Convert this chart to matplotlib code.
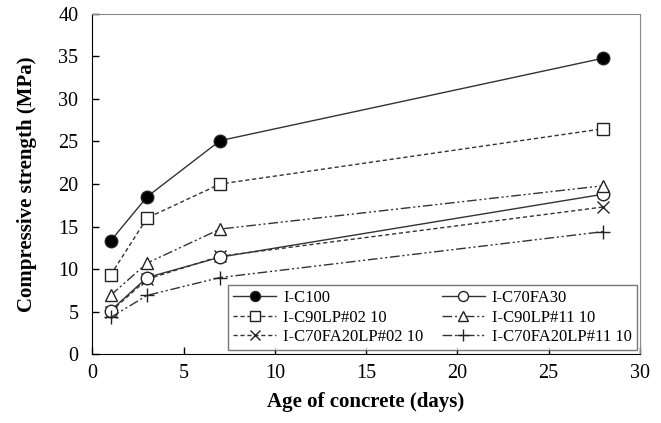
import matplotlib
matplotlib.use("Agg")
from matplotlib import pyplot as plt

plt.rcParams['font.family'] = ['Liberation Serif', 'DejaVu Serif']

# Age of concrete (days)
days = [1, 3, 7, 28]

# Compressive strength (MPa) per mix
c100 = [13.3, 18.5, 25.1, 34.8]
c70fa30 = [5.1, 9.0, 11.4, 18.8]
c90lp02 = [9.3, 16.0, 20.0, 26.5]
c90lp11 = [6.9, 10.7, 14.7, 19.8]
c70fa20lp02 = [5.0, 8.8, 11.5, 17.3]
c70fa20lp11 = [4.3, 6.9, 9.0, 14.4]

names = ["I-C100", "I-C70FA30", "I-C90LP#02 10", "I-C90LP#11 10",
         "I-C70FA20LP#02 10", "I-C70FA20LP#11 10"]

def main():
    fig = plt.figure(figsize=(6.61, 4.23), dpi=100)
    ax = fig.add_axes([0.1397, 0.163, 0.8283, 0.804])

    line = dict(color="#333333", lw=1.0, markeredgecolor="#222222", markeredgewidth=1.0)
    dashed = (0, (3, 2))
    dash_dot_dot = (0, (7, 2, 1.5, 2, 1.5, 2))

    ax.plot(days, c100, ls="-", marker="o", ms=9, markerfacecolor="black", label=names[0], **line)
    ax.plot(days, c90lp02, ls=dashed, marker="s", ms=9, markerfacecolor="white", label=names[2], **line)
    ax.plot(days, c70fa20lp02, ls=dashed, marker="x", ms=9, label=names[4], **line)
    ax.plot(days, c70fa30, ls="-", marker="o", ms=9, markerfacecolor="white", label=names[1], **line)
    ax.plot(days, c90lp11, ls=dash_dot_dot, marker="^", ms=9, markerfacecolor="white", label=names[3], **line)
    ax.plot(days, c70fa20lp11, ls=dash_dot_dot, marker="+", ms=10, label=names[5], **line)

    ax.set_xlim(0, 30)
    ax.set_ylim(0, 40)
    ax.set_xticks(range(0, 31, 5))
    ax.set_yticks(range(0, 41, 5))
    ax.tick_params(direction="in", length=5, width=1, labelsize=14.5,
                   top=False, right=False)
    ax.tick_params(axis="x", pad=7)
    ax.tick_params(axis="y", pad=10)

    for side in ("top", "right"):
        ax.spines[side].set_color("#888888")
    for side in ("left", "bottom"):
        ax.spines[side].set_color("black")

    ax.set_xlabel("Age of concrete (days)", fontsize=15, fontweight="bold", labelpad=7)
    ax.set_ylabel("Compressive strength (MPa)", fontsize=15, fontweight="bold", labelpad=15)

    leg = ax.legend(loc="lower left", bbox_to_anchor=(0.248, 0.012, 0.746, 0.19),
                    mode="expand", ncol=2, fontsize=12, handlelength=2.6,
                    handletextpad=0.4, borderaxespad=0, fancybox=False,
                    frameon=True, labelspacing=0.2, borderpad=0.3, markerscale=0.8)
    leg.get_frame().set_edgecolor("#555555")
    leg.get_frame().set_linewidth(1.0)

    fig.savefig("out.png", dpi=100)
    plt.close(fig)

if __name__ == "__main__":
    main()
